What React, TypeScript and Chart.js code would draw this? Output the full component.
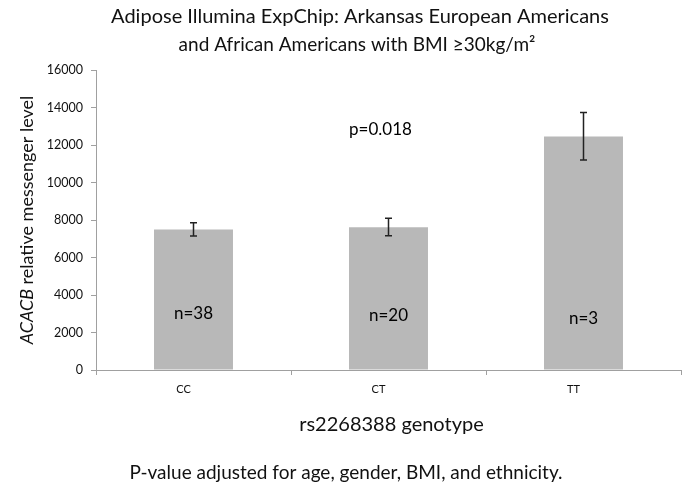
import React, { useEffect, useRef } from "react";
import { Chart, registerables } from "chart.js";

Chart.register(...registerables);

const categories = ["CC", "CT", "TT"];
const means = [7500, 7620, 12450];
const errLow = [7150, 7160, 11200];
const errHigh = [7860, 8100, 13730];
const nLabels = ["n=38", "n=20", "n=3"];
const nLabelValues = [3000, 2900, 2750];
const pLabel = "p=0.018";
const pLabelValue = 12800;
const yTicks = [0, 2000, 4000, 6000, 8000, 10000, 12000, 14000, 16000];
const titleLines = ["Adipose Illumina ExpChip: Arkansas European Americans", "and African Americans with BMI \u226530kg/m\u00b2"];
const xTitle = "rs2268388 genotype";
const footer = "P-value adjusted for age, gender, BMI, and ethnicity.";

const FONT = "Lato, 'Open Sans', sans-serif";

export default function App() {
  const ref = useRef<HTMLCanvasElement | null>(null);
  useEffect(() => {
    document.body.style.margin = "0";
    const canvas = ref.current!;
    const overlay = {
      id: "overlay",
      afterDatasetsDraw(chart: any) {
        const ctx = chart.ctx;
        const xs = chart.scales.x;
        const ys = chart.scales.y;
        const area = chart.chartArea;
        ctx.save();
        // error bars
        ctx.strokeStyle = "#222";
        ctx.lineWidth = 1.5;
        for (let i = 0; i < categories.length; i++) {
          const x = xs.getPixelForValue(i);
          const yl = ys.getPixelForValue(errLow[i]);
          const yh = ys.getPixelForValue(errHigh[i]);
          ctx.beginPath();
          ctx.moveTo(x, yl);
          ctx.lineTo(x, yh);
          ctx.moveTo(x - 3.5, yl);
          ctx.lineTo(x + 3.5, yl);
          ctx.moveTo(x - 3.5, yh);
          ctx.lineTo(x + 3.5, yh);
          ctx.stroke();
        }
        // n labels
        ctx.fillStyle = "#000";
        ctx.font = `17px ${FONT}`;
        ctx.textAlign = "center";
        ctx.textBaseline = "middle";
        for (let i = 0; i < categories.length; i++) {
          ctx.fillText(nLabels[i], xs.getPixelForValue(i), ys.getPixelForValue(nLabelValues[i]));
        }
        ctx.fillText(pLabel, xs.getPixelForValue(1) - 8, ys.getPixelForValue(pLabelValue));
        // title
        ctx.fillStyle = "#111";
        ctx.font = `20px ${FONT}`;
        ctx.fillText(titleLines[0], 360, 17);
        ctx.font = `19px ${FONT}`;
        ctx.fillText(titleLines[1], 357, 45);
        // x title
        ctx.font = `20px ${FONT}`;
        ctx.fillText(xTitle, (area.left + area.right) / 2 + 3, 425);
        // footer
        ctx.font = `19px ${FONT}`;
        ctx.fillText(footer, 346, 473);
        // y title
        ctx.translate(27, (area.top + area.bottom) / 2);
        ctx.rotate(-Math.PI / 2);
        const part1 = "ACACB";
        const part2 = " relative messenger level";
        ctx.font = `italic 18px ${FONT}`;
        const w1 = ctx.measureText(part1).width;
        ctx.font = `18px ${FONT}`;
        const w2 = ctx.measureText(part2).width;
        const start = -(w1 + w2) / 2;
        ctx.textAlign = "left";
        ctx.font = `italic 18px ${FONT}`;
        ctx.fillText(part1, start, 0);
        ctx.font = `18px ${FONT}`;
        ctx.fillText(part2, start + w1, 0);
        ctx.restore();
      },
    };
    const chart = new Chart(canvas, {
      type: "bar",
      data: {
        labels: categories,
        datasets: [
          {
            data: means,
            backgroundColor: "#b8b8b8",
            borderWidth: 0,
            barPercentage: 0.405,
            categoryPercentage: 1,
          },
        ],
      },
      options: {
        animation: false,
        responsive: false,
        devicePixelRatio: 1,
        layout: { padding: { top: 70, right: 6, left: 0, bottom: 0 } },
        plugins: { legend: { display: false }, tooltip: { enabled: false }, title: { display: false } },
        scales: {
          x: {
            afterFit: (s: any) => {
              s.height = 116;
            },
            grid: { display: true, drawOnChartArea: false, offset: true, tickLength: 5, color: "#a0a0a0" },
            border: { color: "#a0a0a0", width: 1 },
            ticks: { font: { family: FONT, size: 11 }, color: "#111", labelOffset: -10, padding: 8 },
          },
          y: {
            min: 0,
            max: 16000,
            afterFit: (s: any) => {
              s.width = 96;
            },
            afterBuildTicks: (s: any) => {
              s.ticks = yTicks.map((v) => ({ value: v }));
            },
            grid: { display: true, drawOnChartArea: false, tickLength: 5, color: "#a0a0a0" },
            border: { color: "#a0a0a0", width: 1 },
            ticks: {
              font: { family: FONT, size: 12.5 },
              color: "#111",
              padding: 8,
              callback: (v: any) => String(v),
            },
          },
        },
      },
      plugins: [overlay],
    });
    return () => chart.destroy();
  }, []);
  return <canvas ref={ref} width={687} height={486} style={{ display: "block" }} />;
}
